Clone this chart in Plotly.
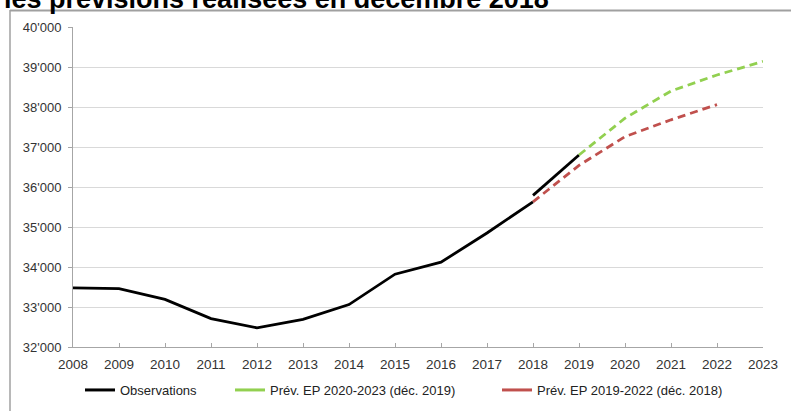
import plotly.graph_objects as go

years_obs = [2008, 2009, 2010, 2011, 2012, 2013, 2014, 2015, 2016, 2017, 2018]
obs = [33480, 33460, 33190, 32710, 32480, 32690, 33060, 33820, 34120, 34850, 35630]
years_obs2 = [2018, 2019]
obs2 = [35790, 36800]

years_green = [2019, 2020, 2021, 2022, 2023]
green = [36800, 37720, 38400, 38800, 39140]

years_red = [2018, 2019, 2020, 2021, 2022]
red = [35630, 36540, 37260, 37680, 38060]

y_ticks = [32000, 33000, 34000, 35000, 36000, 37000, 38000, 39000, 40000]
y_labels = ["32'000", "33'000", "34'000", "35'000", "36'000", "37'000", "38'000", "39'000", "40'000"]
x_ticks = list(range(2008, 2024))
x_labels = [str(v) for v in x_ticks]

C_BLACK = "#000000"
C_GREEN = "#92d050"
C_RED = "#c0504d"
FONT = "Liberation Sans, Arial, sans-serif"

fig = go.Figure()
fig.add_trace(go.Scatter(x=years_obs, y=obs, mode="lines", line=dict(color=C_BLACK, width=2.8),
                         showlegend=False, hoverinfo="skip"))
fig.add_trace(go.Scatter(x=years_obs2, y=obs2, mode="lines", line=dict(color=C_BLACK, width=2.8),
                         showlegend=False, hoverinfo="skip"))
fig.add_trace(go.Scatter(x=years_green, y=green, mode="lines",
                         line=dict(color=C_GREEN, width=2.8, dash="8px,5px"),
                         showlegend=False, hoverinfo="skip"))
fig.add_trace(go.Scatter(x=years_red, y=red, mode="lines",
                         line=dict(color=C_RED, width=2.8, dash="8px,5px"),
                         showlegend=False, hoverinfo="skip"))

# legend proxies (solid lines as in the reference legend)
fig.add_trace(go.Scatter(x=[None], y=[None], mode="lines", name="Observations",
                         line=dict(color=C_BLACK, width=3), legend="legend"))
fig.add_trace(go.Scatter(x=[None], y=[None], mode="lines", name="Prév. EP 2020-2023 (déc. 2019)",
                         line=dict(color=C_GREEN, width=3), legend="legend2"))
fig.add_trace(go.Scatter(x=[None], y=[None], mode="lines", name="Prév. EP 2019-2022 (déc. 2018)",
                         line=dict(color=C_RED, width=3), legend="legend3"))

W, H = 791, 411
ml, mr, mt, mb = 73, 28, 27, 64
pw, ph = W - ml - mr, H - mt - mb

def px_x(p):
    return (p - ml) / pw

def px_y(p):
    return (H - mb - p) / ph

leg_common = dict(orientation="h", yanchor="middle", xanchor="left", y=px_y(390),
                  bgcolor="rgba(0,0,0,0)", font=dict(family=FONT, size=13, color="#222"),
                  itemwidth=30, tracegroupgap=0)

fig.update_layout(
    width=W, height=H,
    margin=dict(l=ml, r=mr, t=mt, b=mb, autoexpand=False),
    paper_bgcolor="white", plot_bgcolor="white",
    font=dict(family=FONT, size=13, color="#333"),
    xaxis=dict(range=[2008, 2023], tickvals=x_ticks, ticktext=x_labels,
               showgrid=False, zeroline=False, showline=True, linecolor="#a6a6a6", linewidth=1,
               ticks="inside", ticklen=4, tickcolor="#a6a6a6", ticklabelstandoff=5,
               tickfont=dict(family=FONT, size=13.5, color="#333")),
    yaxis=dict(range=[32000, 40000], tickvals=y_ticks, ticktext=y_labels,
               showgrid=True, gridcolor="#d9d9d9", gridwidth=1, zeroline=False,
               showline=True, linecolor="#a6a6a6", linewidth=1,
               ticks="outside", ticklen=4, tickcolor="#a6a6a6", ticklabelstandoff=4,
               tickfont=dict(family=FONT, size=13, color="#333")),
    legend=dict(x=px_x(80), **leg_common),
    legend2=dict(x=px_x(230), **leg_common),
    legend3=dict(x=px_x(497), **leg_common),
    shapes=[
        dict(type="line", xref="paper", yref="paper", x0=px_x(10), x1=px_x(800),
             y0=px_y(10.5), y1=px_y(10.5), line=dict(color="#a0a0a0", width=2)),
        dict(type="line", xref="paper", yref="paper", x0=px_x(10), x1=px_x(10),
             y0=px_y(10), y1=px_y(420), line=dict(color="#a0a0a0", width=1.5)),
    ],
    annotations=[
        dict(text="<b>les prévisions réalisées en décembre 2018</b>", xref="paper", yref="paper",
             x=px_x(2), y=px_y(16), xanchor="left", yanchor="bottom", showarrow=False,
             font=dict(family=FONT, size=27, color="#000")),
    ],
)

fig.write_html("out.html", config={"displayModeBar": False},
               post_script="document.body.style.margin='0px';")
